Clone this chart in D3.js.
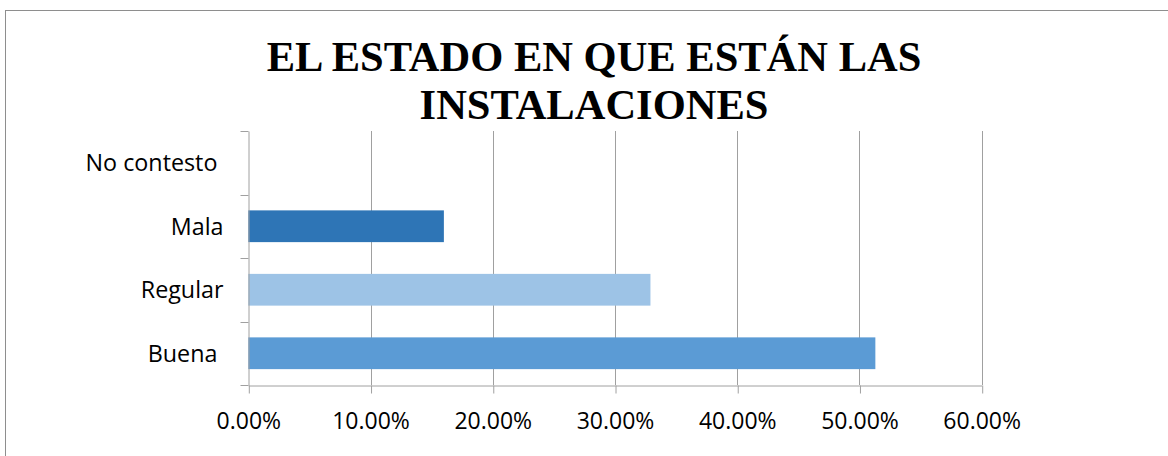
<!DOCTYPE html>
<html>
<head>
<meta charset="utf-8">
<script src="https://cdn.jsdelivr.net/npm/d3@7"></script>
<style>
  html, body { margin: 0; padding: 0; background: #fff; }
  svg { display: block; }
  text { white-space: pre; }
</style>
</head>
<body>
<div id="chart"></div>
<script>
const titleLines = ["EL ESTADO EN QUE ESTÁN LAS", "INSTALACIONES"];
const categories = ["No contesto ", "Mala", "Regular", "Buena "];
const values = [0, 0.16, 0.329, 0.513];
const barColors = ["#5B9BD5", "#2E75B6", "#9DC3E6", "#5B9BD5"];
const xTicks = [0, 0.1, 0.2, 0.3, 0.4, 0.5, 0.6];

const W = 1168, H = 456;
const plot = { left: 248.3, right: 981.7, top: 131, bottom: 385 };
const gridColor = "#a0a0a0";

const svg = d3.select('#chart')
    .append('svg')
    .attr('width', W)
    .attr('height', H);

// outer chart border (only left and top fall inside the picture)
svg.append('rect')
    .attr('x', 5.5)
    .attr('y', 10.5)
    .attr('width', 1300)
    .attr('height', 600)
    .attr('fill', 'none')
    .attr('stroke', '#8e8e8e')
    .attr('stroke-width', 1);

svg.append('text')
    .attr('x', 594)
    .attr('y', 71)
    .attr('text-anchor', 'middle')
    .attr('font-family', '"Liberation Serif", "Times New Roman", serif')
    .attr('font-weight', 'bold')
    .attr('font-size', 42.5)
    .attr('fill', '#000')
    .selectAll('tspan')
    .data(titleLines)
    .join('tspan')
    .attr('x', 594)
    .attr('dy', (d, i) => i === 0 ? 0 : 48)
    .text(d => d);

const x = d3.scaleLinear()
    .domain([0, 0.6])
    .range([plot.left, plot.right]);

const y = d3.scaleBand()
    .domain(categories)
    .range([plot.top, plot.bottom])
    .paddingInner(0.5)
    .paddingOuter(0.25);

// vertical gridlines
svg.append('g')
    .selectAll('line')
    .data(xTicks.slice(1))
    .join('line')
    .attr('x1', d => Math.round(x(d)) + 0.5)
    .attr('x2', d => Math.round(x(d)) + 0.5)
    .attr('y1', plot.top)
    .attr('y2', plot.bottom)
    .attr('stroke', gridColor)
    .attr('stroke-width', 1);

// bars
svg.append('g')
    .selectAll('rect')
    .data(categories)
    .join('rect')
    .attr('x', x(0))
    .attr('y', d => y(d))
    .attr('width', (d, i) => x(values[i]) - x(0))
    .attr('height', y.bandwidth())
    .attr('fill', (d, i) => barColors[i]);

// x axis
const xAxis = svg.append('g')
    .attr('transform', `translate(0, ${plot.bottom + 0.5})`)
    .call(d3.axisBottom(x)
        .tickValues(xTicks)
        .tickFormat(d3.format('.2%'))
        .tickSizeInner(8)
        .tickSizeOuter(0)
        .tickPadding(19));

xAxis.selectAll('.tick line')
    .attr('transform', 'translate(0.5, 0)');
xAxis.selectAll('path, line').attr('stroke', gridColor);
xAxis.selectAll('text')
    .attr('font-family', '"Open Sans", sans-serif')
    .attr('font-size', 23)
    .attr('fill', '#000');

// y axis: labels from the band scale, tick marks on band boundaries
const yAxis = svg.append('g')
    .attr('transform', `translate(${Math.round(plot.left) + 0.5}, 0)`)
    .call(d3.axisLeft(y)
        .tickSize(0)
        .tickPadding(25));

yAxis.select('.domain').attr('stroke', gridColor);
yAxis.selectAll('text')
    .attr('font-family', '"Open Sans", sans-serif')
    .attr('font-size', 23.3)
    .attr('dy', '0.37em')
    .attr('fill', '#000');

const half = y.step() * y.paddingInner() / 2;
const bounds = categories.map(c => y(c) - half).concat([plot.bottom]);
yAxis.append('g')
    .selectAll('line')
    .data(bounds)
    .join('line')
    .attr('x1', -8)
    .attr('x2', 0)
    .attr('y1', d => Math.round(d) + 0.5)
    .attr('y2', d => Math.round(d) + 0.5)
    .attr('stroke', gridColor);
</script>
</body>
</html>
